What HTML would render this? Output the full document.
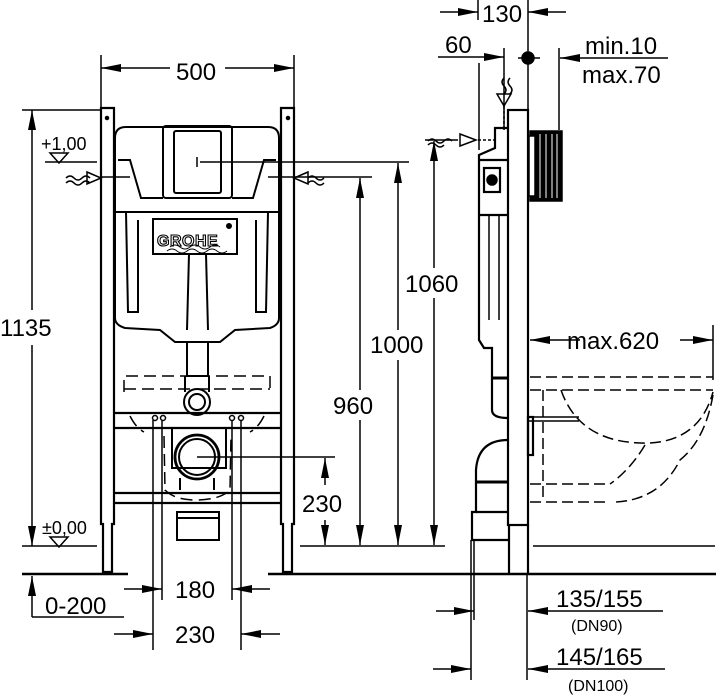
<!DOCTYPE html>
<html><head><meta charset="utf-8"><style>
html,body{margin:0;padding:0;background:#fff}
svg{display:block}
text{font-family:"Liberation Sans",Arial,sans-serif;fill:#000}
</style></head><body>
<svg width="720" height="698" viewBox="0 0 720 698" xmlns="http://www.w3.org/2000/svg">
<defs>
<marker id="b" viewBox="0 0 20 8" refX="20" refY="4" markerWidth="20" markerHeight="8" orient="auto" markerUnits="userSpaceOnUse"><path d="M0,0 L20,4 L0,8z" fill="#000"/></marker>
</defs>
<g stroke="#000" fill="none" stroke-width="1.5">
<line x1="101" y1="55" x2="101" y2="108"/><line x1="294" y1="55" x2="294" y2="108"/>
<line x1="170" y1="68" x2="101" y2="68" marker-end="url(#b)"/>
<line x1="225" y1="68" x2="294" y2="68" marker-end="url(#b)"/>
<line x1="22" y1="110" x2="101" y2="110"/>
<line x1="32" y1="310" x2="32" y2="110" marker-end="url(#b)"/>
<line x1="32" y1="345" x2="32" y2="546" marker-end="url(#b)"/>
<line x1="45" y1="162" x2="97" y2="162"/>
<path d="M50,153 L68,153 L59,163z"/>
<line x1="22" y1="546" x2="97" y2="546"/>
<path d="M50,537 L68,537 L59,547z"/>
<line x1="22" y1="574" x2="128" y2="574" stroke-width="2.4"/>
<line x1="268" y1="574" x2="716" y2="574" stroke-width="2.4"/>
<line x1="32" y1="617" x2="32" y2="576" marker-end="url(#b)"/>
<line x1="32" y1="617" x2="124" y2="617"/>
<path d="M66,178 q4,-4 8,0 t8,0 q4,-4 8,0" /><path d="M66,183 q4,-4 8,0 t8,0 q4,-4 8,0"/>
<path d="M87,172 L101,178 L87,184z"/>
<line x1="101" y1="177" x2="130" y2="177"/>
<path d="M308,178 q4,-4 8,0 t8,0" /><path d="M308,183 q4,-4 8,0 t8,0"/>
<path d="M308,172 L294,178 L308,184z"/>
<line x1="268" y1="177" x2="294" y2="177"/>
<line x1="294" y1="177" x2="372" y2="177"/>
<line x1="200" y1="162" x2="409" y2="162"/>
<line x1="360" y1="390" x2="360" y2="178" marker-end="url(#b)"/>
<line x1="360" y1="420" x2="360" y2="545" marker-end="url(#b)"/>
<line x1="398" y1="330" x2="398" y2="163" marker-end="url(#b)"/>
<line x1="398" y1="360" x2="398" y2="545" marker-end="url(#b)"/>
<line x1="434" y1="268" x2="434" y2="141" marker-end="url(#b)"/>
<line x1="434" y1="298" x2="434" y2="545" marker-end="url(#b)"/>
<line x1="300" y1="546" x2="445" y2="546"/>
<line x1="533" y1="546" x2="715" y2="546"/>
<line x1="197" y1="457" x2="335" y2="457"/>
<line x1="325" y1="485" x2="325" y2="458" marker-end="url(#b)"/>
<line x1="325" y1="520" x2="325" y2="545" marker-end="url(#b)"/>
<line x1="153" y1="420" x2="153" y2="650"/><line x1="162" y1="420" x2="162" y2="600"/>
<line x1="232" y1="420" x2="232" y2="600"/><line x1="241" y1="420" x2="241" y2="650"/>
<line x1="124" y1="589" x2="162" y2="589" marker-end="url(#b)"/>
<line x1="270" y1="589" x2="232" y2="589" marker-end="url(#b)"/>
<line x1="114" y1="634" x2="153" y2="634" marker-end="url(#b)"/>
<line x1="280" y1="634" x2="241" y2="634" marker-end="url(#b)"/>
<g stroke-width="2.2">
<path d="M101,108 L114,108 L114,524 L112,524 L112,572 L103,572 L103,524 L101,524z"/>
<path d="M281,108 L294,108 L294,524 L292,524 L292,572 L283,572 L283,524 L281,524z"/>
<line x1="114" y1="413" x2="281" y2="413"/><line x1="114" y1="428" x2="281" y2="428"/>
<line x1="114" y1="493" x2="281" y2="493"/><line x1="114" y1="503" x2="281" y2="503"/>
</g>
<circle cx="107" cy="118" r="1.5" fill="#000"/><circle cx="288" cy="118" r="1.5" fill="#000"/>
<g stroke-width="2">
<path d="M115,212 L115,138 Q115,127 126,127 L268,127 Q279,127 279,138 L279,212z"/>
<path d="M115,212 L115,318 Q115,325 125,328 L160,330 L175,342 L220,342 L235,330 L270,328 Q279,325 279,318 L279,212"/>
<rect x="163" y="126" width="69" height="72" rx="3"/>
<rect x="174" y="131" width="47" height="62" rx="2"/>
<path d="M118,160 L130,160 L141,198 L163,198"/><path d="M276,160 L264,160 L253,198 L232,198"/>
<rect x="153" y="219" width="84" height="35"/>
<line x1="189" y1="254" x2="187" y2="330"/><line x1="206" y1="254" x2="208" y2="330"/>
<path d="M126,212 L128,312 L138,312 L138,220"/><path d="M268,212 L266,312 L256,312 L256,220"/>
<rect x="187" y="342" width="21" height="34"/>
<circle cx="197" cy="402" r="13"/><circle cx="197" cy="402" r="8"/>
<line x1="185" y1="376" x2="185" y2="392"/><line x1="209" y1="376" x2="209" y2="392"/>
<rect x="172" y="428" width="54" height="40"/>
<circle cx="197" cy="457" r="22" stroke-width="2.8"/><circle cx="197" cy="457" r="18"/>
<path d="M180,478 L180,490 M214,478 L214,490"/>
<rect x="177" y="512" width="42" height="28"/><line x1="177" y1="518" x2="219" y2="518"/>
</g>
<line x1="197" y1="157" x2="197" y2="167"/>
<circle cx="155" cy="418" r="2.5"/><circle cx="163" cy="418" r="2.5"/>
<circle cx="232" cy="418" r="2.5"/><circle cx="241" cy="418" r="2.5"/>
<g stroke-dasharray="12,6">
<path d="M124,392 L124,376 L270,376 L270,392"/>
<line x1="124" y1="389" x2="270" y2="389"/>
<path d="M130,416 Q136,428 144,432"/><path d="M264,416 Q258,428 250,432"/>
<path d="M164,436 L165,490 Q175,500 195,500 Q220,500 230,490 L231,436"/>
</g>
<line x1="478" y1="0" x2="478" y2="20"/><line x1="528" y1="0" x2="528" y2="110"/>
<line x1="440" y1="12" x2="478" y2="12" marker-end="url(#b)"/>
<line x1="566" y1="12" x2="528" y2="12" marker-end="url(#b)"/>
<line x1="438" y1="57" x2="504" y2="57" marker-end="url(#b)"/>
<line x1="504" y1="48" x2="504" y2="130"/>
<line x1="479" y1="63" x2="479" y2="150"/>
<line x1="518" y1="58" x2="540" y2="58"/>
<circle cx="528" cy="58" r="6" fill="#000"/>
<line x1="668" y1="58" x2="560" y2="58" marker-end="url(#b)"/>
<line x1="559" y1="48" x2="559" y2="130"/>
<path d="M504,78 q-4,4 0,8 t0,8 M510,78 q-4,4 0,8 t0,8"/>
<path d="M497,94 L511,94 L504,106z"/>
<line x1="504" y1="106" x2="504" y2="128" stroke-dasharray="3,2"/>
<path d="M428,141 q4,-4 8,0 t8,0 q4,-4 8,0 M428,145 q4,-4 8,0 t8,0"/>
<path d="M460,134 L476,140 L460,146z"/>
<line x1="425" y1="140" x2="458" y2="140"/>
<line x1="478" y1="140" x2="494" y2="140" stroke-dasharray="3,2"/>
<g stroke-width="2.2">
<rect x="508" y="110" width="20" height="415"/>
<path d="M509,525 L509,573 M528,525 L528,573"/>
<path d="M508,128 L495,128 L495,148 L479,155 L479,340 L484,348 L492,348 L492,410 Q492,418 508,418"/>
<line x1="479" y1="160" x2="508" y2="160"/>
<line x1="479" y1="215" x2="508" y2="215"/>
<rect x="484" y="168" width="16" height="24"/>
<path d="M508,440 Q478,440 476,470 L476,512 L472,512 L472,540 L508,540"/>
<line x1="476" y1="482" x2="508" y2="482" stroke-width="3"/>
<line x1="476" y1="512" x2="508" y2="512"/>
<line x1="492" y1="378" x2="508" y2="378" stroke-width="3"/>
<rect x="528" y="417" width="5" height="38"/>
</g>
<circle cx="492" cy="180" r="5" fill="#000"/>
<line x1="489" y1="215" x2="489" y2="320"/><line x1="499" y1="215" x2="499" y2="320"/>
<rect x="530" y="131" width="32" height="70" fill="#000"/>
<g stroke="#fff" stroke-width="1"><line x1="540" y1="134" x2="540" y2="198"/><line x1="546" y1="134" x2="546" y2="198"/><line x1="552" y1="134" x2="552" y2="198"/><line x1="557" y1="134" x2="557" y2="198"/></g>
<rect x="529" y="136" width="6" height="60" fill="#fff"/>
<line x1="580" y1="340" x2="530" y2="340" marker-end="url(#b)"/>
<line x1="680" y1="340" x2="713" y2="340" marker-end="url(#b)"/>
<line x1="713" y1="325" x2="713" y2="380"/>
<line x1="528" y1="417" x2="579" y2="417"/><line x1="528" y1="421" x2="579" y2="421"/>
<g stroke-dasharray="11,5">
<line x1="530" y1="377" x2="713" y2="377"/>
<line x1="530" y1="390" x2="713" y2="390"/>
<line x1="543" y1="390" x2="543" y2="502"/>
<path d="M561,390 Q580,445 650,443 Q700,440 713,392"/>
<path d="M713,395 Q705,440 680,460 Q660,500 615,502"/>
<path d="M645,445 Q630,470 610,484"/>
<line x1="530" y1="484" x2="608" y2="484"/>
<line x1="530" y1="502" x2="610" y2="502"/>
</g>
<line x1="474" y1="540" x2="474" y2="620"/><line x1="471" y1="540" x2="471" y2="680"/>
<line x1="527" y1="574" x2="527" y2="680"/>
<line x1="436" y1="611" x2="474" y2="611" marker-end="url(#b)"/>
<line x1="663" y1="611" x2="528" y2="611" marker-end="url(#b)"/>
<line x1="433" y1="669" x2="471" y2="669" marker-end="url(#b)"/>
<line x1="665" y1="669" x2="528" y2="669" marker-end="url(#b)"/>
</g>
<g font-size="24">
<text x="176" y="80">500</text>
<text x="0" y="336">1135</text>
<text x="45" y="614">0-200</text>
<text x="175" y="598">180</text>
<text x="175" y="643">230</text>
<text x="302" y="512">230</text>
<text x="333" y="414">960</text>
<text x="370" y="353">1000</text>
<text x="405" y="292">1060</text>
<text x="482" y="22">130</text>
<text x="445" y="53">60</text>
<text x="585" y="54">min.10</text>
<text x="582" y="83">max.70</text>
<text x="567" y="349">max.620</text>
<text x="556" y="607">135/155</text>
<text x="556" y="665">145/165</text>
</g>
<g font-size="18">
<text x="41" y="150">+1,00</text>
<text x="42" y="534">±0,00</text>
</g>
<g font-size="16">
<text x="571" y="631">(DN90)</text>
<text x="568" y="691">(DN100)</text>
</g>
<text x="157" y="246" font-size="16" font-weight="bold" letter-spacing="0.5" style="fill:#fff;stroke:#000;stroke-width:1.1">GROHE</text>
<circle cx="229" cy="226" r="3" fill="#000"/>
<path d="M167,251 q5,-4 10,0 t10,0 t10,0 t10,0 t10,0 t10,0 M170,247 q5,-4 10,0 t10,0 t10,0 t10,0 t10,0" stroke="#000" fill="none"/>
</svg>
</body></html>
